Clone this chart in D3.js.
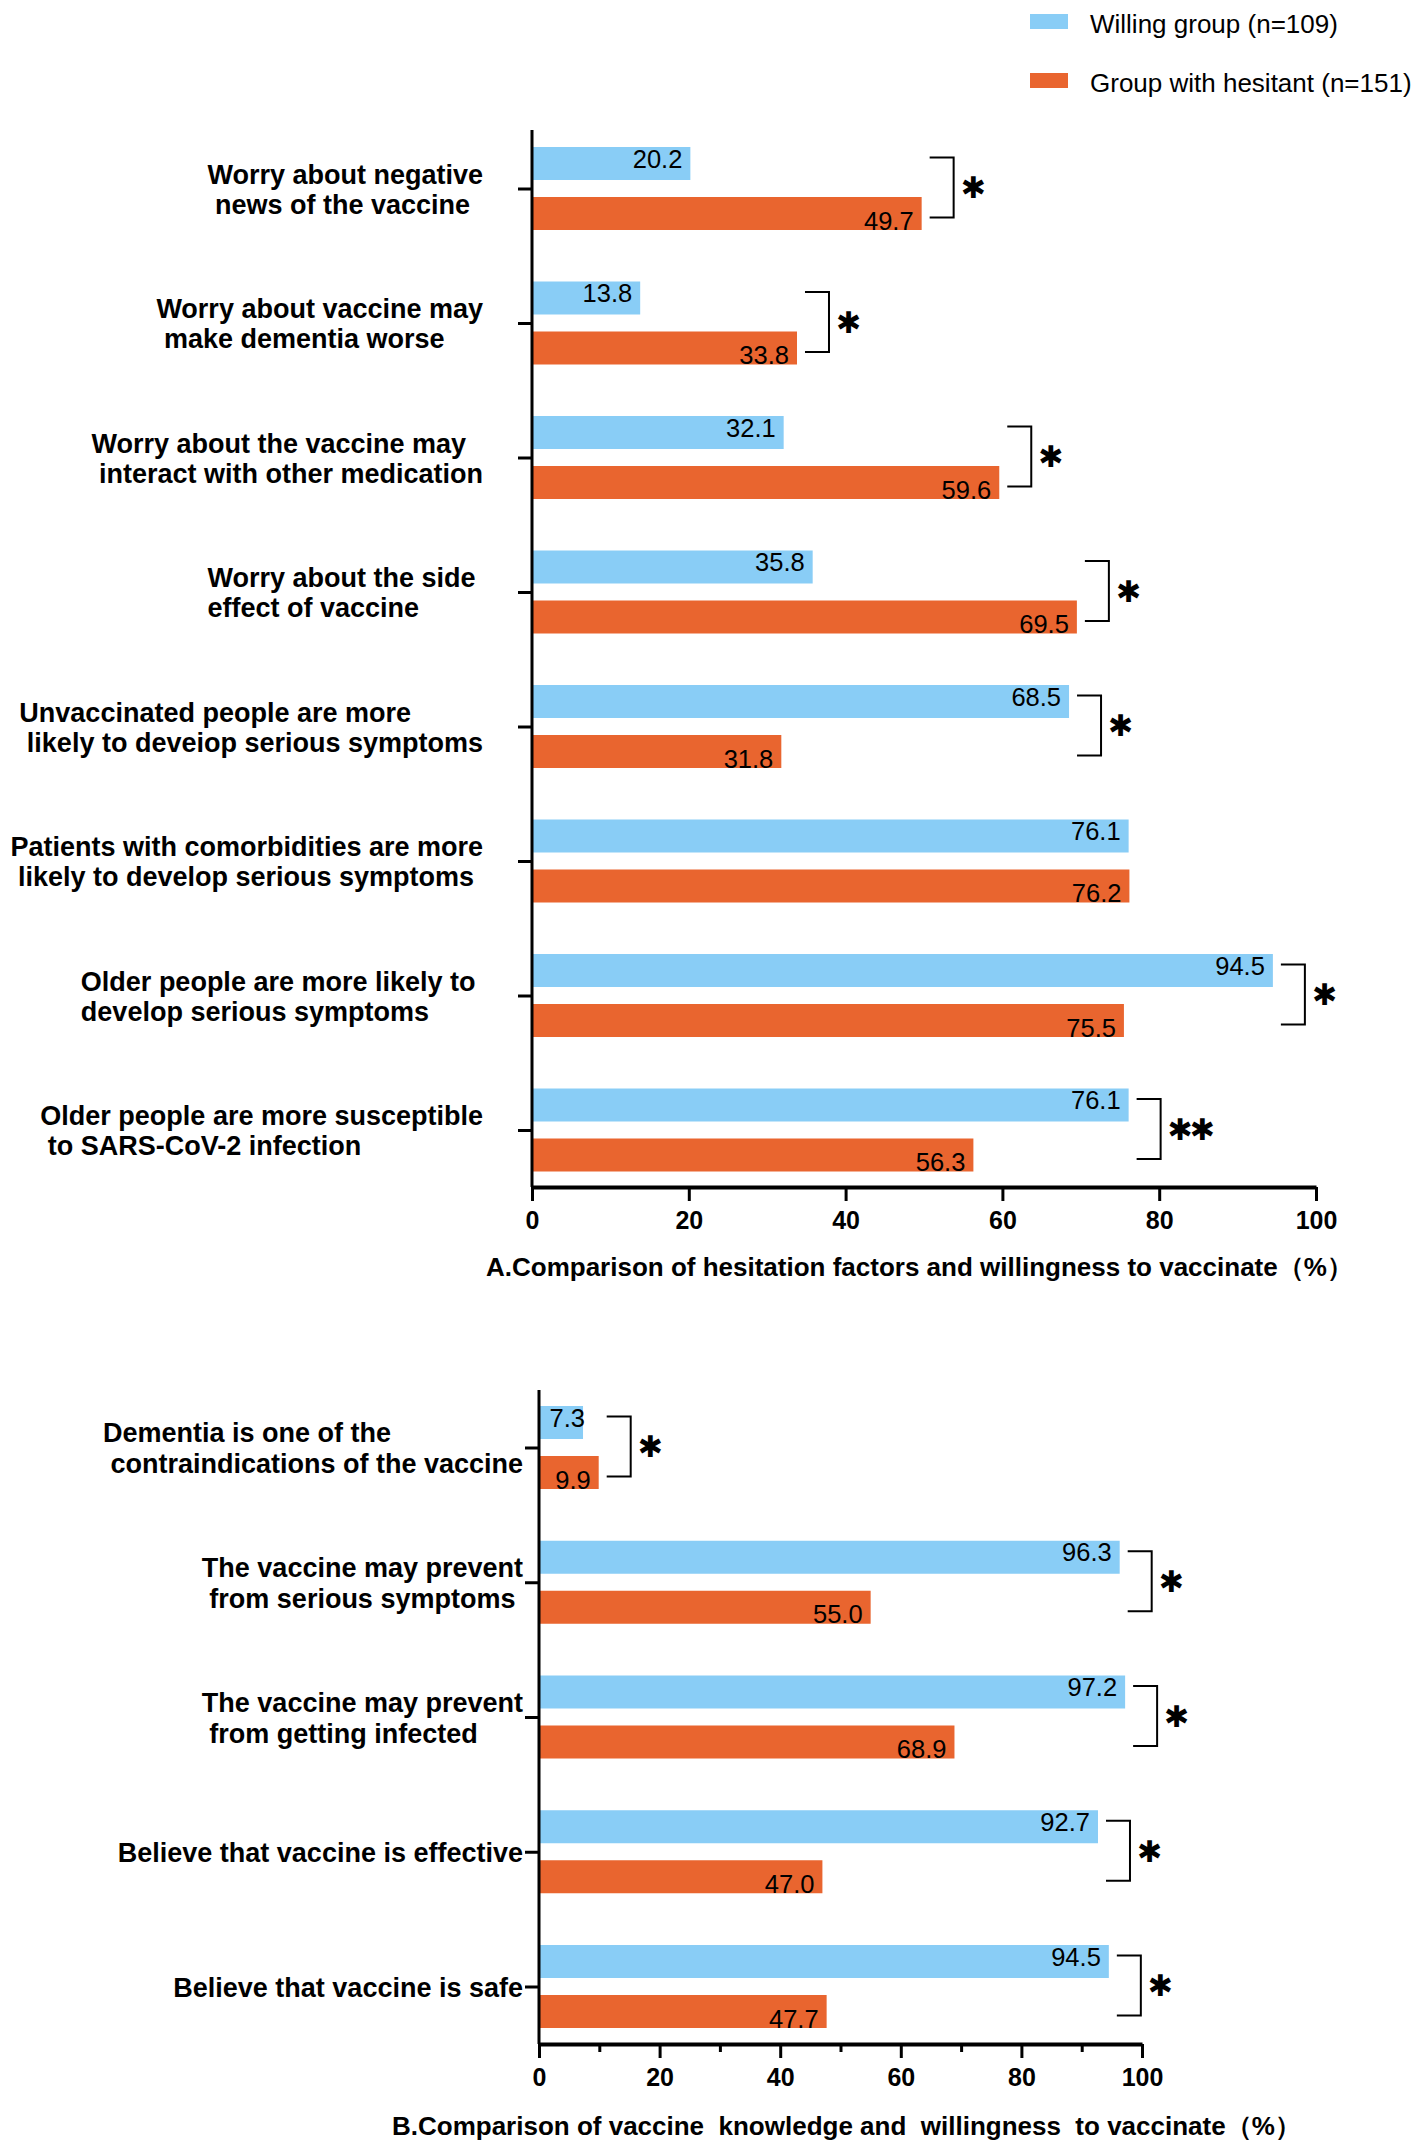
<!DOCTYPE html>
<html>
<head>
<meta charset="utf-8">
<script src="https://cdn.jsdelivr.net/npm/d3@7"></script>
<style>
  body { margin: 0; background: #fff; }
  svg { display: block; font-family: "Liberation Sans", Arial, Helvetica, sans-serif; }
  .cat-label { font-weight: bold; font-size: 27px; white-space: pre; }
  .val-label { font-size: 25.5px; }
  .tick text { font-weight: bold; font-size: 25px; font-family: "Liberation Sans", Arial, sans-serif; }
</style>
</head>
<body>
<div id="chart"></div>
<script>
// Panel A: hesitation factors
const catsA = [
    ['Worry about negative', ' news of the vaccine'],
    ['Worry about vaccine may', ' make dementia worse'],
    ['Worry about the vaccine may', ' interact with other medication'],
    ['Worry about the side ', 'effect of vaccine'],
    ['Unvaccinated people are more', ' likely to deveiop serious symptoms'],
    ['Patients with comorbidities are more', ' likely to develop serious symptoms'],
    ['Older people are more likely to ', 'develop serious symptoms'],
    ['Older people are more susceptible', ' to SARS-CoV-2 infection']
];
const willingA = [20.2, 13.8, 32.1, 35.8, 68.5, 76.1, 94.5, 76.1];
const hesitantA = [49.7, 33.8, 59.6, 69.5, 31.8, 76.2, 75.5, 56.3];
const sigA = ['*', '*', '*', '*', '*', '', '*', '**'];

// Panel B: vaccine knowledge
const catsB = [
    ['Dementia is one of the', ' contraindications of the vaccine'],
    ['The vaccine may prevent', ' from serious symptoms'],
    ['The vaccine may prevent', ' from getting infected'],
    ['Believe that vaccine is effective'],
    ['Believe that vaccine is safe']
];
const willingB = [7.3, 96.3, 97.2, 92.7, 94.5];
const hesitantB = [9.9, 55.0, 68.9, 47.0, 47.7];
const sigB = ['*', '*', '*', '*', '*'];

const xTicks = [0, 20, 40, 60, 80, 100];
const xMinorTicks = [10, 30, 50, 70, 90];
const seriesNames = ['Willing group (n=109)', 'Group with hesitant (n=151)'];
const colors = ['#89CDF6', '#E9652F'];

const width = 1418, height = 2145;

const svg = d3.select('#chart')
    .append('svg')
    .attr('width', width)
    .attr('height', height);

// Legend
const legend = svg.append('g').attr('class', 'legend');
seriesNames.forEach((name, i) => {
    const g = legend.append('g').attr('transform', `translate(1030,${14 + i * 59})`);
    g.append('rect')
        .attr('width', 38)
        .attr('height', 15)
        .attr('fill', colors[i]);
    g.append('text')
        .attr('x', 60)
        .attr('y', 18.5)
        .style('font-size', '26px')
        .text(name);
});

function drawPanel(cfg) {
    const g = svg.append('g');
    const n = cfg.cats.length;

    const x = d3.scaleLinear().domain([0, 100]).range([cfg.x0, cfg.x1]);
    const y = d3.scaleBand()
        .domain(d3.range(n))
        .range([cfg.firstC - cfg.step / 2, cfg.firstC + (n - 0.5) * cfg.step]);
    const inner = d3.scaleBand()
        .domain([0, 1])
        .range([-42, 41])
        .paddingInner(0.34);

    const rows = d3.range(n).map(i => ({
        i: i,
        vals: [cfg.willing[i], cfg.hesitant[i]],
        sig: cfg.sig[i],
        c: y(i) + y.bandwidth() / 2
    }));

    // Bars
    rows.forEach(r => {
        r.vals.forEach((v, k) => {
            g.append('rect')
                .attr('x', x(0))
                .attr('y', r.c + inner(k))
                .attr('width', x(v) - x(0))
                .attr('height', inner.bandwidth())
                .attr('fill', colors[k]);
        });
    });

    // Value labels
    rows.forEach(r => {
        r.vals.forEach((v, k) => {
            const yc = r.c + inner(k) + inner.bandwidth() / 2 + (k === 0 ? -5 : 7);
            g.append('text')
                .attr('class', 'val-label')
                .attr('x', Math.max(x(v) - 8, x(0) + 46))
                .attr('y', yc)
                .attr('dy', '0.36em')
                .attr('text-anchor', 'end')
                .text(v.toFixed(1));
        });
    });

    // Significance brackets
    rows.filter(r => r.sig).forEach(r => {
        const bx = x(d3.max(r.vals)) + 8;
        const top = r.c + inner(0) + inner.bandwidth() / 2 - 6;
        const bottom = r.c + inner(1) + inner.bandwidth() / 2 + 4;
        const len = 24;
        g.append('path')
            .attr('d', `M${bx},${top}H${bx + len}V${bottom}H${bx}`)
            .attr('fill', 'none')
            .attr('stroke', '#000')
            .attr('stroke-width', 2);
        g.append('text')
            .attr('x', bx + len + 7)
            .attr('y', (top + bottom) / 2)
            .attr('dy', '0.36em')
            .style('font-family', '"DejaVu Sans", sans-serif')
            .style('font-size', '30px')
            .style('letter-spacing', '-3px')
            .text(r.sig.replace(/\*/g, '\u2731'));
    });

    // Y axis line and category ticks
    g.append('line')
        .attr('x1', x(0)).attr('x2', x(0))
        .attr('y1', cfg.yTop).attr('y2', cfg.yBase)
        .attr('stroke', '#000')
        .attr('stroke-width', 3);

    const yAxis = d3.axisLeft(y).tickSize(14).tickSizeOuter(0).tickFormat('');
    const yg = g.append('g')
        .attr('transform', `translate(${x(0)},0)`)
        .call(yAxis);
    yg.select('.domain').remove();
    yg.selectAll('.tick line').attr('stroke-width', 3);

    // Category labels: left-aligned block, right edge fixed
    rows.forEach(r => {
        const lines = cfg.cats[r.i];
        const t = g.append('text').attr('class', 'cat-label');
        const spans = lines.map((s, j) => t.append('tspan')
            .attr('y', r.c + (j - (lines.length - 1) / 2) * cfg.lineH)
            .attr('dy', '0.36em')
            .text(s));
        const maxW = d3.max(spans, s => s.node().getComputedTextLength());
        spans.forEach(s => s.attr('x', cfg.labelRight - maxW));
    });

    // X axis
    const xAxis = d3.axisBottom(x)
        .tickValues(xTicks)
        .tickSize(14)
        .tickSizeOuter(0)
        .tickPadding(10)
        .tickFormat(d3.format('d'));
    const xg = g.append('g')
        .attr('transform', `translate(0,${cfg.yBase})`)
        .call(xAxis);
    xg.select('.domain').attr('stroke-width', 4);
    xg.selectAll('.tick line').attr('stroke-width', 3);

    if (cfg.minor) {
        const mg = g.append('g')
            .attr('transform', `translate(0,${cfg.yBase})`)
            .call(d3.axisBottom(x).tickValues(xMinorTicks).tickSize(8).tickSizeOuter(0).tickFormat(''));
        mg.select('.domain').remove();
        mg.selectAll('.tick line').attr('stroke-width', 3);
    }

    // Axis title
    g.append('text')
        .attr('x', cfg.titleX)
        .attr('y', cfg.titleY)
        .style('font-size', '26px')
        .style('font-weight', 'bold')
        .style('white-space', 'pre')
        .text(cfg.title);
}

drawPanel({
    cats: catsA, willing: willingA, hesitant: hesitantA, sig: sigA,
    x0: 532, x1: 1316, yTop: 130, yBase: 1187,
    firstC: 189, step: 134.5, lineH: 30, labelRight: 483,
    minor: false,
    title: 'A.Comparison of hesitation factors and willingness to vaccinate（%）',
    titleX: 486, titleY: 1276
});

drawPanel({
    cats: catsB, willing: willingB, hesitant: hesitantB, sig: sigB,
    x0: 539, x1: 1142, yTop: 1390, yBase: 2044,
    firstC: 1448, step: 134.75, lineH: 31, labelRight: 523,
    minor: true,
    title: 'B.Comparison of vaccine  knowledge and  willingness  to vaccinate（%）',
    titleX: 392, titleY: 2135
});
</script>
</body>
</html>
